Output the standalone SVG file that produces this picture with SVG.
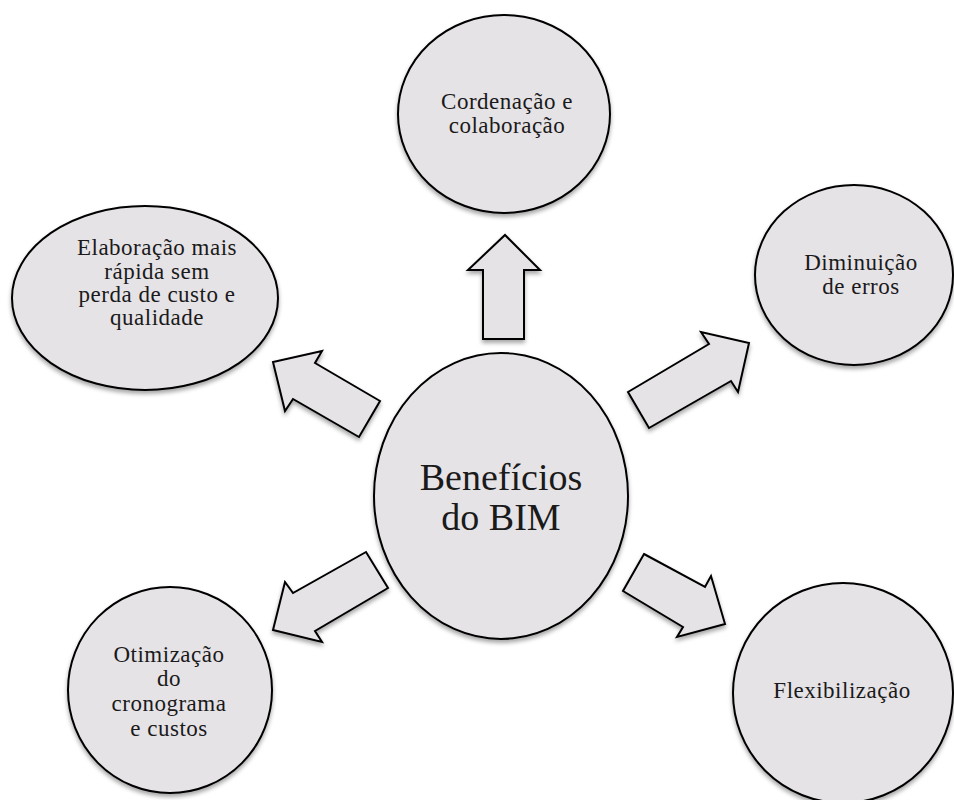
<svg xmlns="http://www.w3.org/2000/svg" width="954" height="800" viewBox="0 0 954 800">
<defs>
<filter id="sh" x="-10%" y="-10%" width="120%" height="125%">
<feDropShadow dx="0" dy="3" stdDeviation="2" flood-color="#000" flood-opacity="0.35"/>
</filter>
</defs>
<style>
.n{fill:#E6E3E7;stroke:#000;stroke-width:2;filter:url(#sh)}
.a{fill:#E6E3E7;stroke:#000;stroke-width:2;stroke-linejoin:miter;filter:url(#sh)}
.t{font-family:"Liberation Serif","Times New Roman",serif;font-size:23px;letter-spacing:0.5px;fill:#1a1a1a;text-anchor:middle}
.c{font-family:"Liberation Serif","Times New Roman",serif;font-size:38px;fill:#1a1a1a;text-anchor:middle}
</style>
<rect width="954" height="800" fill="#fff"/>
<g id="connectors">
<polygon class="a" points="483,339 483,270 468,270 505,235 540,270 524,270 524,339"/>
<polygon class="a" points="380,401 315,363 322,351 273,362 285,411 293,399 359,437"/>
<polygon class="a" points="628,392 709,344 701,332 749,343 738,392 731,381 649,428"/>
<polygon class="a" points="644,554 705,587 711,576 725,624 677,637 683,627 623,591"/>
<polygon class="a" points="366,552 293,593 285,582 273,630 322,642 315,631 388,588"/>
</g>
<g id="center">
<ellipse class="n" cx="501" cy="496" rx="127" ry="143"/>
<text class="c" x="501" y="490">Benefícios</text>
<text class="c" x="501" y="530">do BIM</text>
</g>
<g id="coordenacao">
<ellipse class="n" cx="504" cy="114" rx="106" ry="99"/>
<text class="t" x="507" y="109">Cordenação e</text>
<text class="t" x="507" y="133">colaboração</text>
</g>
<g id="elaboracao">
<ellipse class="n" cx="145" cy="298" rx="133" ry="92"/>
<text class="t" x="157" y="255">Elaboração mais</text>
<text class="t" x="157" y="279">rápida sem</text>
<text class="t" x="157" y="302">perda de custo e</text>
<text class="t" x="157" y="325">qualidade</text>
</g>
<g id="diminuicao">
<ellipse class="n" cx="854" cy="275" rx="99" ry="90"/>
<text class="t" x="861" y="270">Diminuição</text>
<text class="t" x="861" y="294">de erros</text>
</g>
<g id="otimizacao">
<ellipse class="n" cx="170" cy="690" rx="102" ry="103"/>
<text class="t" x="169" y="662">Otimização</text>
<text class="t" x="169" y="686">do</text>
<text class="t" x="169" y="711">cronograma</text>
<text class="t" x="169" y="736">e custos</text>
</g>
<g id="flexibilizacao">
<ellipse class="n" cx="843" cy="693" rx="110" ry="110"/>
<text class="t" x="842" y="698">Flexibilização</text>
</g>
</svg>
